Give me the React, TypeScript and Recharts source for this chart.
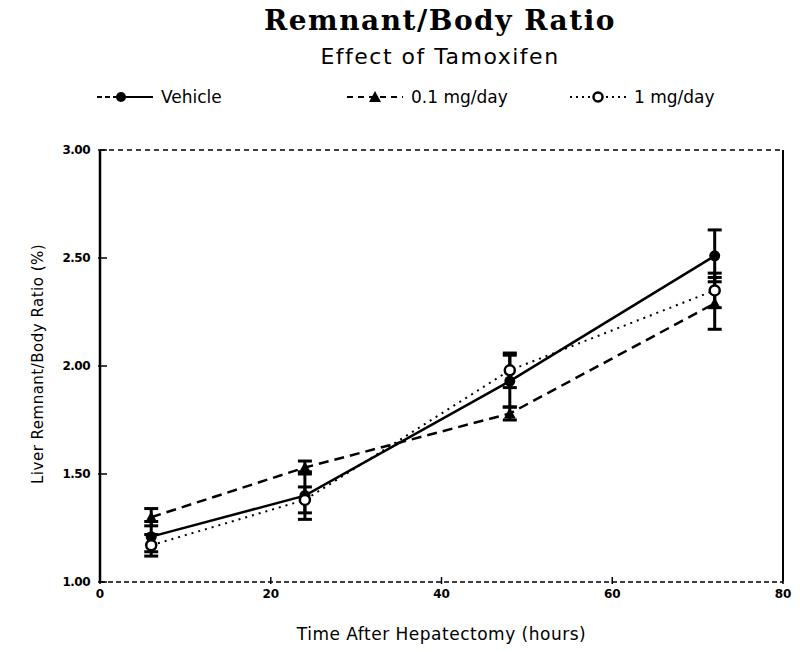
import { LineChart, Line, XAxis, YAxis, ErrorBar, ReferenceLine } from "recharts";

const hours = [6, 24, 48, 72];
const vehicle = [1.21, 1.4, 1.93, 2.51];
const vehicleErr = [0.07, 0.11, 0.12, 0.12];
const low = [1.3, 1.53, 1.78, 2.29];
const lowErr = [0.04, 0.03, 0.03, 0.12];
const high = [1.17, 1.38, 1.98, 2.35];
const highErr = [0.05, 0.06, 0.08, 0.08];
const yTicks = [1, 1.5, 2, 2.5, 3];
const xTicks = [0, 20, 40, 60, 80];

const data = hours.map((h, i) => ({
  h,
  vehicle: vehicle[i],
  vehicleErr: vehicleErr[i],
  low: low[i],
  lowErr: lowErr[i],
  high: high[i],
  highErr: highErr[i],
}));

const font = "'DejaVu Sans', sans-serif";

function Triangle({ cx, cy }: any) {
  return <path d={`M${cx},${cy - 6} L${cx + 6},${cy + 5} L${cx - 6},${cy + 5} Z`} fill="#000" />;
}

function OpenDot({ cx, cy }: any) {
  return <circle cx={cx} cy={cy} r={5} fill="#fff" stroke="#000" strokeWidth={2.5} />;
}

function FilledDot({ cx, cy }: any) {
  return <circle cx={cx} cy={cy} r={5.5} fill="#000" />;
}

function YTick({ x, y, payload }: any) {
  return (
    <g>
      <text x={x - 8} y={y + 4} textAnchor="end" fontFamily={font} fontWeight="bold" fontSize={12} fill="#000" letterSpacing={-0.5}>
        {payload.value.toFixed(2)}
      </text>
      <line x1={x} x2={x + 9} y1={y} y2={y} stroke="#000" strokeWidth={1.5} />
    </g>
  );
}

function XTick({ x, y, payload }: any) {
  return (
    <g>
      <text x={x} y={y + 14} textAnchor="middle" fontFamily={font} fontWeight="bold" fontSize={12} fill="#000">
        {payload.value}
      </text>
      <line x1={x} x2={x} y1={y} y2={y - 7} stroke="#000" strokeWidth={1.5} />
    </g>
  );
}

function LegendIcon({ kind }: { kind: string }) {
  const dash = kind === "low" ? "6 5" : "2 4";
  return (
    <svg width={60} height={16} style={{ verticalAlign: "middle" }}>
      {kind === "vehicle" ? (
        <>
          <line x1={2} x2={22} y1={8} y2={8} stroke="#000" strokeWidth={2} strokeDasharray="5 3" />
          <line x1={24} x2={58} y1={8} y2={8} stroke="#000" strokeWidth={2} />
          <circle cx={26} cy={8} r={5} fill="#000" />
        </>
      ) : (
        <line x1={2} x2={58} y1={8} y2={8} stroke="#000" strokeWidth={2} strokeDasharray={dash} />
      )}
      {kind === "low" && <path d="M30,2 L36,13 L24,13 Z" fill="#000" />}
      {kind === "high" && <circle cx={30} cy={8} r={4.5} fill="#fff" stroke="#000" strokeWidth={2.5} />}
    </svg>
  );
}

function LegendRow() {
  const items = [
    { kind: "vehicle", label: "Vehicle", left: 95 },
    { kind: "low", label: "0.1 mg/day", left: 345 },
    { kind: "high", label: "1 mg/day", left: 568 },
  ];
  return (
    <div style={{ position: "absolute", left: 0, top: 86, width: 800, height: 20 }}>
      {items.map((it) => (
        <div
          key={it.kind}
          style={{ position: "absolute", left: it.left, top: 0, fontFamily: font, fontSize: 17, whiteSpace: "nowrap" }}
        >
          <LegendIcon kind={it.kind} />
          <span style={{ marginLeft: 6, verticalAlign: "middle" }}>{it.label}</span>
        </div>
      ))}
    </div>
  );
}

export default function App() {
  return (
    <div style={{ position: "absolute", left: 0, top: 0, width: 800, height: 651, background: "#fff" }}>
      <LineChart width={800} height={651} data={data} margin={{ top: 150, right: 17, bottom: 39, left: 40 }}>
        <XAxis
          dataKey="h"
          type="number"
          domain={[0, 80]}
          ticks={xTicks}
          tick={<XTick />}
          tickLine={false}
          tickSize={0}
          axisLine={{ stroke: "#000", strokeWidth: 1.5, strokeDasharray: "5 3" }}
          height={30}
          label={{ value: "Time After Hepatectomy (hours)", position: "insideBottom", offset: -28, fontFamily: font, fontSize: 17, fill: "#000", letterSpacing: 0.5 } as any}
        />
        <YAxis
          type="number"
          domain={[1, 3]}
          ticks={yTicks}
          tick={<YTick />}
          tickLine={false}
          tickSize={0}
          axisLine={{ stroke: "#000", strokeWidth: 2.5 }}
          width={60}
          label={{ value: "Liver Remnant/Body Ratio (%)", angle: -90, position: "insideLeft", offset: -2, dy: 118, fontFamily: font, fontSize: 15, fill: "#000", letterSpacing: 0.5 } as any}
        />
        <ReferenceLine y={3} stroke="#000" strokeWidth={1.5} strokeDasharray="5 4" />
        <ReferenceLine x={80} stroke="#000" strokeWidth={2} />
        <Line
          dataKey="vehicle"
          type="linear"
          stroke="#000"
          strokeWidth={2.5}
          dot={<FilledDot />}
          isAnimationActive={false}
        >
          <ErrorBar dataKey="vehicleErr" direction="y" width={7} stroke="#000" strokeWidth={3} />
        </Line>
        <Line
          dataKey="low"
          type="linear"
          stroke="#000"
          strokeWidth={2.5}
          strokeDasharray="10 6"
          dot={<Triangle />}
          isAnimationActive={false}
        >
          <ErrorBar dataKey="lowErr" direction="y" width={7} stroke="#000" strokeWidth={3} />
        </Line>
        <Line
          dataKey="high"
          type="linear"
          stroke="#000"
          strokeWidth={2}
          strokeDasharray="2 5"
          dot={<OpenDot />}
          isAnimationActive={false}
        >
          <ErrorBar dataKey="highErr" direction="y" width={7} stroke="#000" strokeWidth={3} />
        </Line>
      </LineChart>
      <div
        style={{
          position: "absolute",
          top: 4,
          width: 880,
          textAlign: "center",
          fontFamily: "'DejaVu Serif', serif",
          fontWeight: "bold",
          fontSize: 28,
          letterSpacing: 1.5,
        }}
      >
        Remnant/Body Ratio
      </div>
      <div
        style={{
          position: "absolute",
          top: 44,
          width: 880,
          textAlign: "center",
          fontFamily: font,
          fontSize: 22,
          letterSpacing: 1.5,
        }}
      >
        Effect of Tamoxifen
      </div>
      <LegendRow />
    </div>
  );
}
